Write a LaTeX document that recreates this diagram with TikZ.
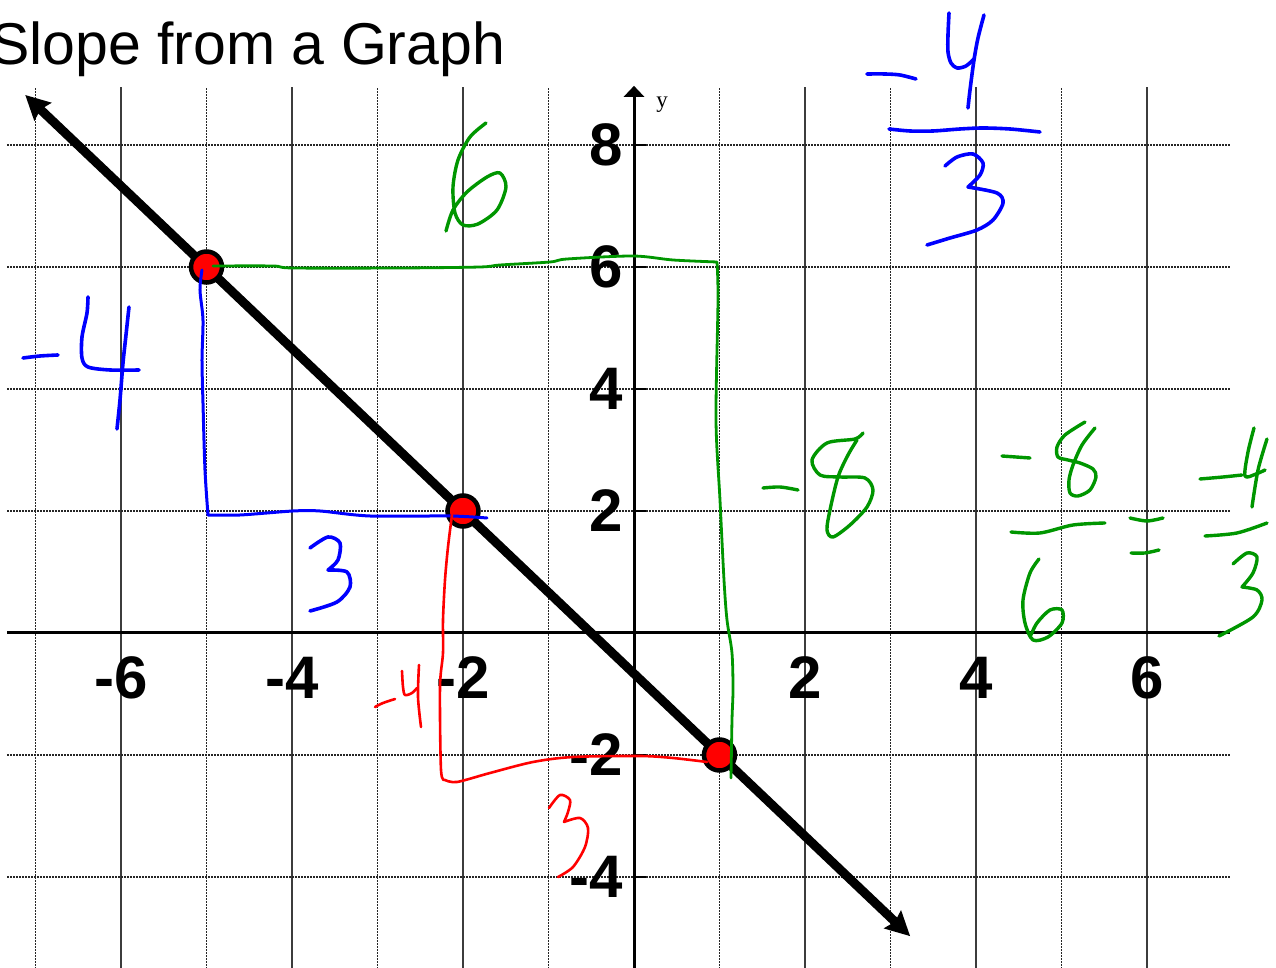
\documentclass[tikz,border=0pt]{standalone}
\usepackage{fontspec}
\usepackage{tikz}
\usetikzlibrary{arrows.meta, positioning}
\setmainfont{Liberation Sans}
\newfontfamily\axisserif{Liberation Serif}
\definecolor{inkred}{RGB}{255,0,0}
\definecolor{inkblue}{RGB}{0,0,255}
\definecolor{inkgreen}{RGB}{0,150,0}
\definecolor{griddark}{RGB}{60,60,60}
\tikzset{
  majorline/.style={draw=griddark, line width=1.8pt},
  minorline/.style={draw=black!85, line width=1.3pt, dash pattern=on 1.3pt off 1.7pt},
  axisline/.style={draw=black, line width=3pt},
  ticklabel/.style={font=\fontsize{60}{60}\selectfont\bfseries, inner sep=0pt},
  pointdot/.style={circle, fill=inkred, draw=black, line width=4.5pt,
    minimum size=31pt, inner sep=0pt},
  bigline/.style={draw=black, line width=9pt,
    {Stealth[length=24pt,width=24pt,inset=3pt]}-{Stealth[length=24pt,width=24pt,inset=3pt]}},
  bluepen/.style={draw=inkblue, line width=3.6pt, line cap=round, line join=round},
  greenpen/.style={draw=inkgreen, line width=3.4pt, line cap=round, line join=round},
  redpen/.style={draw=inkred, line width=2.6pt, line cap=round, line join=round}
}

\begin{document}
\begin{tikzpicture}[x=85.5pt, y=61pt,
  handwriting/.style={x=1pt, y=-1pt, shift={(-634pt,633pt)}}]
  \useasboundingbox (-634pt,-335pt) rectangle (642pt,633pt);

  % Grid
  \foreach \gx in {-6,-4,-2,2,4,6}
    \draw[majorline] (\gx,-5.6) -- (\gx,8.95);
  \foreach \gx in {-7,-5,-3,-1,1,3,5}
    \draw[minorline] (\gx,-5.6) -- (\gx,8.95);
  \foreach \gy in {-4,-2,2,4,6,8}
    \draw[minorline] (-7.33,\gy) -- (6.97,\gy);

  % Axes
  \coordinate (xleft) at (-7.33,0);
  \coordinate (xright) at (6.97,0);
  \coordinate (ybottom) at (0,-5.6);
  \coordinate (ytop) at (0,8.97);
  \draw[axisline] (xleft) -- (xright);
  \draw[axisline, -{Triangle[length=11pt,width=20pt]}] (ybottom) -- (ytop);
  \foreach \ty in {-4,-2,2,4,6,8}
    \draw[axisline, line width=2pt] (0,\ty) -- ++(12pt,0);
  \node[font=\axisserif\fontsize{23}{23}\selectfont, inner sep=0pt] (ylabel) at (0.33,8.66) {y};

  % Tick labels
  \foreach \ty in {-4,-2,2,4,6,8}
    \node[ticklabel, anchor=east] (ylab\ty) at (-0.13,\ty) {\ty};
  \foreach \tx in {-6,-4,-2,2,4,6}
    \node[ticklabel] (xlab\tx) at (\tx,-0.73) {\tx};

  % Title
  \node[anchor=base west, font=\fontsize{59}{59}\selectfont, inner sep=0pt] (title)
    at (-644pt,568pt) {Slope from a Graph};

  % Line and points
  \coordinate (lstart) at (-7.12,8.82);
  \coordinate (lend) at (3.23,-4.97);
  \draw[bigline] (lstart) -- (lend);
  \node[pointdot] (pa) at (-5,6) {};
  \node[pointdot] (pb) at (-2,2) {};
  \node[pointdot] (pc) at (1,-2) {};

  % Handwritten notes
  \begin{scope}[handwriting]
    % blue -4/3 top right
    \draw[bluepen] plot[smooth] coordinates {(867,74) (885,74) (900,75) (916,79)};
    \draw[bluepen] plot[smooth] coordinates {(949,13) (948,35) (948,52) (951,63) (957,68) (966,66) (974,59)};
    \draw[bluepen] plot[smooth] coordinates {(984,15) (978,38) (974,60) (970,90) (968,108)};
    \draw[bluepen] plot[smooth] coordinates {(889,129) (910,131) (933,131) (960,129) (983,128) (1010,129) (1040,132)};
    \draw[bluepen] plot[smooth] coordinates {(945,166) (957,157) (973,154) (983,163) (980,175) (968,187)}
      -- plot[smooth] coordinates {(968,187) (997,193) (1003,203) (993,220) (977,230) (950,238) (927,245)};
    % blue -4 left
    \draw[bluepen] plot[smooth] coordinates {(23,358) (40,356) (58,355)};
    \draw[bluepen] plot[smooth] coordinates {(88,297) (87,313) (82,337) (82,358) (88,367) (110,370) (139,370)};
    \draw[bluepen] plot[smooth] coordinates {(129,307) (126,335) (123,363) (120,400) (117,429)};
    % blue rise and run
    \draw[bluepen, line width=3pt] plot[smooth] coordinates {(202,270) (200,290) (203,320) (202,360) (203,403) (205,470) (208,515)}
      -- plot[smooth] coordinates {(208,515) (240,515) (293,511) (320,511) (370,516) (450,516) (487,518)};
    \draw[bluepen] plot[smooth] coordinates {(310,548) (328,537) (340,543) (338,560) (328,570)}
      -- plot[smooth] coordinates {(328,570) (347,572) (350,587) (337,602) (310,611)};

    % green rise and run
    \draw[greenpen, line width=2.8pt] plot[smooth] coordinates {(213,266) (273,266) (293,268) (400,268) (480,267) (500,265) (550,262) (567,259) (633,256) (673,260) (717,262)}
      -- plot[smooth] coordinates {(717,262) (718,300) (716,420) (720,500) (724,580) (727,620) (732,653) (733,690) (732,720) (731,778)};
    \draw[greenpen] plot[smooth] coordinates {(486,123) (470,137) (458,160) (453,187) (455,213) (463,225) (478,224) (497,210) (506,187) (500,173) (487,177) (467,192) (453,210) (446,231)};
    \draw[greenpen] plot[smooth] coordinates {(763,488) (780,487) (798,490)};
    \draw[greenpen] plot[smooth] coordinates {(863,433) (855,439) (827,443) (812,460) (820,475) (840,477) (865,478) (873,490) (867,507) (850,525) (833,537) (827,530) (830,510) (838,477) (848,455) (857,440)};
    % green -8/6 = -4/3
    \draw[greenpen] plot[smooth] coordinates {(1002,456) (1016,457) (1030,458)};
    \draw[greenpen] plot[smooth] coordinates {(1085,422) (1065,435) (1057,447) (1058,457) (1068,460) (1080,463) (1093,469) (1096,477) (1090,490) (1078,496) (1070,493) (1069,480) (1073,465) (1082,445) (1095,428)};
    \draw[greenpen] plot[smooth] coordinates {(1011,532) (1040,533) (1073,525) (1105,523)};
    \draw[greenpen] plot[smooth] coordinates {(1039,559) (1030,573) (1023,600) (1025,623) (1033,640) (1048,637) (1062,623) (1062,610) (1050,610) (1037,623) (1030,637)};
    \draw[greenpen] plot[smooth] coordinates {(1130,518) (1147,521) (1163,518)};
    \draw[greenpen] plot[smooth] coordinates {(1131,553) (1145,553) (1159,550)};
    \draw[greenpen] plot[smooth] coordinates {(1200,479) (1223,477) (1242,475)};
    \draw[greenpen] plot[smooth] coordinates {(1254,428) (1248,452) (1245,476) (1256,474) (1265,470)};
    \draw[greenpen] plot[smooth] coordinates {(1267,439) (1258,470) (1252,507)};
    \draw[greenpen] plot[smooth] coordinates {(1205,536) (1237,533) (1267,523)};
    \draw[greenpen] plot[smooth] coordinates {(1233,564) (1247,553) (1257,557) (1253,573) (1242,587)}
      -- plot[smooth] coordinates {(1242,587) (1257,590) (1262,600) (1253,617) (1219,636)};

    % red rise and run
    \draw[redpen] plot[smooth] coordinates {(452,515) (448,547) (445,580) (443,620) (443,653) (440,687) (441,770) (445,780)}
      -- plot[smooth] coordinates {(445,780) (457,782) (490,773) (533,762) (573,757) (640,756) (673,758) (707,762)};
    \draw[redpen] plot[smooth] coordinates {(375,707) (383,703) (395,699)};
    \draw[redpen] plot[smooth] coordinates {(402,671) (403,687) (405,695) (412,693) (417,688)};
    \draw[redpen] plot[smooth] coordinates {(419,665) (418,697) (421,727)};
    \draw[redpen] plot[smooth] coordinates {(549,808) (560,795) (570,800) (568,812) (564,822)}
      -- plot[smooth] coordinates {(564,822) (580,818) (588,828) (585,847) (573,867) (558,877)};
  \end{scope}

\end{tikzpicture}
\end{document}
